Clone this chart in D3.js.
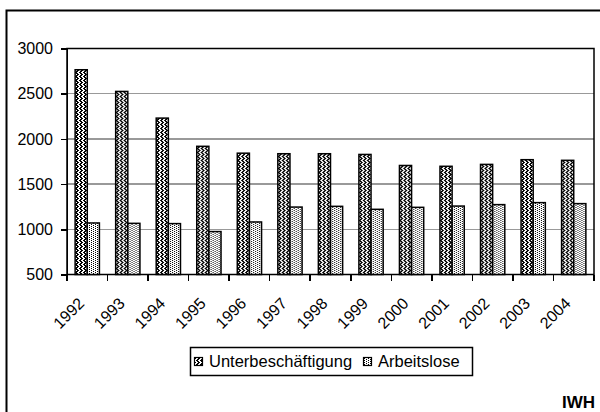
<!DOCTYPE html>
<meta charset="utf-8">
<style>
 body { margin: 0; background: #fff; }
 svg text { font-family: Arial, "Liberation Sans", sans-serif; fill: #000; }
 .axis path, .axis line { stroke: #000; stroke-width: 1.5; shape-rendering: crispEdges; }
 .axis text { font-size: 16px; }
 .grid line { stroke: #999; stroke-width: 1.5; shape-rendering: crispEdges; }
</style>
<body>
<svg width="600" height="412"></svg>
<script src="https://d3js.org/d3.v7.min.js"></script>
<script>

 // data
 var years = ["1992","1993","1994","1995","1996","1997","1998","1999","2000","2001","2002","2003","2004"];
 var unterbeschaeftigung = [2765, 2525, 2230, 1918, 1842, 1836, 1836, 1828, 1706, 1697, 1718, 1770, 1763];
 var arbeitslose = [1070, 1066, 1063, 975, 1081, 1246, 1254, 1221, 1243, 1257, 1273, 1295, 1284];
 var seriesNames = ["Unterbeschäftigung", "Arbeitslose"];
 var yTicks = [500, 1000, 1500, 2000, 2500, 3000];

 var svg = d3.select("svg"),
     plotL = 67, plotR = 594, plotT = 48.5, plotB = 274.5;

 // hatch patterns (drawn pixel by pixel)
 var defs = svg.append("defs");
 function pixPattern(id, rows) {
     var p = defs.append("pattern")
         .attr("id", id)
         .attr("patternUnits", "userSpaceOnUse")
         .attr("width", rows[0].length)
         .attr("height", rows.length);
     p.append("rect").attr("width", rows[0].length).attr("height", rows.length).attr("fill", "#fff");
     rows.forEach(function(r, j) {
         r.split("").forEach(function(c, i) {
             if (c == "1") p.append("rect").attr("x", i).attr("y", j).attr("width", 1).attr("height", 1).attr("fill", "#000");
         });
     });
 }
 pixPattern("pat0", ["1100", "0110", "0011", "0110"]);
 pixPattern("pat1", ["1000", "0010"]);

 var x = d3.scaleBand().domain(years).range([plotL, plotR]);
 var x1 = d3.scaleBand().domain(seriesNames).range([0, x.bandwidth()]).paddingOuter(0.67);
 var y = d3.scaleLinear().domain([500, 3000]).range([plotB, plotT]);

 // outer frame (cropped)
 svg.append("rect")
    .attr("x", 6.5).attr("y", 10.5).attr("width", 620).attr("height", 420)
    .attr("fill", "none").attr("stroke", "#000").attr("stroke-width", 2);

 // gridlines
 svg.append("g").attr("class", "grid")
    .selectAll("line").data(yTicks.slice(1, -1)).enter().append("line")
    .attr("x1", plotL).attr("x2", plotR)
    .attr("y1", function(d) { return y(d); }).attr("y2", function(d) { return y(d); });

 // plot border
 svg.append("rect")
    .attr("x", plotL).attr("y", plotT).attr("width", plotR - plotL).attr("height", plotB - plotT)
    .attr("fill", "none").attr("stroke", "#000").attr("stroke-width", 1.5);

 // bars
 var data = years.map(function(yr, i) { return {year: yr, v: [unterbeschaeftigung[i], arbeitslose[i]]}; });
 var grp = svg.append("g").selectAll("g").data(data).enter().append("g")
    .attr("transform", function(d) { return "translate(" + x(d.year) + ",0)"; });
 grp.selectAll("rect").data(function(d) { return d.v.map(function(v, k) { return {k: k, v: v}; }); })
    .enter().append("rect")
    .attr("x", function(d) { return x1(seriesNames[d.k]); })
    .attr("width", x1.bandwidth())
    .attr("y", function(d) { return y(d.v); })
    .attr("height", function(d) { return plotB - y(d.v); })
    .attr("fill", function(d) { return "url(#pat" + d.k + ")"; })
    .attr("stroke", "#000").attr("stroke-width", 1.5);

 // y axis
 svg.append("g").attr("class", "axis")
    .attr("transform", "translate(" + plotL + ",0)")
    .call(d3.axisLeft(y).tickValues(yTicks).tickFormat(d3.format("d")).tickSize(6).tickPadding(8).tickSizeOuter(0))
    .call(function(g) { g.selectAll("text").attr("font-family", null).attr("font-size", null); });

 // x axis: ticks at category boundaries
 var xa = svg.append("g").attr("class", "axis");
 xa.selectAll("line").data(years.concat(["end"])).enter().append("line")
    .attr("x1", function(d, i) { return i < years.length ? x(d) : plotR; })
    .attr("x2", function(d, i) { return i < years.length ? x(d) : plotR; })
    .attr("y1", plotB).attr("y2", plotB + 6);
 xa.selectAll("text").data(years).enter().append("text")
    .attr("transform", function(d) { return "translate(" + (x(d) + x.bandwidth() / 2 - 6) + "," + (plotB + 26) + ") rotate(-45)"; })
    .attr("text-anchor", "end")
    .attr("dy", "0.35em")
    .text(function(d) { return d; });

 // legend
 var lg = svg.append("g");
 lg.append("rect").attr("x", 190.5).attr("y", 347.5).attr("width", 282).attr("height", 28)
    .attr("fill", "#fff").attr("stroke", "#000").attr("stroke-width", 1.5);
 var lx = [194, 363];
 seriesNames.forEach(function(n, k) {
     lg.append("rect").attr("x", lx[k] + 0.5).attr("y", 357.5).attr("width", 8).attr("height", 8)
        .attr("fill", "url(#pat" + k + ")").attr("stroke", "#000").attr("stroke-width", 1.2);
     lg.append("text").attr("x", lx[k] + 15).attr("y", 366.5)
        .attr("font-size", 16.5).text(n);
 });

 svg.append("text").attr("x", 562).attr("y", 408)
    .attr("font-size", 17).attr("font-weight", "bold").text("IWH");

</script>
</body>
